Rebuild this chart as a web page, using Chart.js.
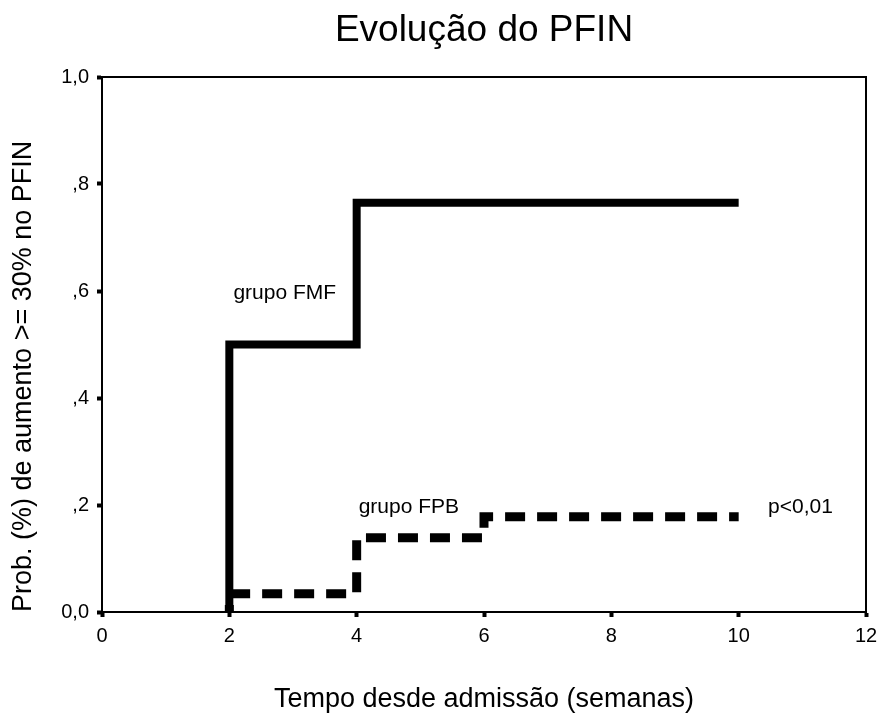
<!DOCTYPE html>
<html>
<head>
<meta charset="utf-8">
<title>Evolução do PFIN</title>
<script src="https://cdn.jsdelivr.net/npm/chart.js@4/dist/chart.umd.min.js"></script>
<style>
  html, body { margin: 0; padding: 0; background: #fff; }
</style>
</head>
<body>
<canvas id="pfin" width="878" height="713"></canvas>
<script>
// Cumulative probability steps (weeks -> probability)
const fmfWeeks = [2, 2, 4, 10];
const fmfProb = [0, 0.5, 0.765, 0.765];
const fpbWeeks = [2, 2, 4, 6, 10];
const fpbProb = [0, 0.034, 0.139, 0.178, 0.178];

const xTicks = [0, 2, 4, 6, 8, 10, 12];
const yTicks = [0, 0.2, 0.4, 0.6, 0.8, 1.0];
const yTickLabels = ['0,0', ',2', ',4', ',6', ',8', '1,0'];

// free text placed in data coordinates
const notes = [
    { text: 'grupo FMF', x: 2.87, y: 0.596 },
    { text: 'grupo FPB', x: 4.82, y: 0.196 },
    { text: 'p<0,01', x: 10.97, y: 0.196 }
];

const FONT = "'Liberation Sans', Arial, sans-serif";

const toPoints = (xs, ys) => xs.map((x, i) => ({ x: x, y: ys[i] }));

// top and right edges of the plot box
const framePlugin = {
    id: 'frame',
    afterDraw(chart) {
        const { ctx, chartArea: a } = chart;
        ctx.save();
        ctx.strokeStyle = '#000';
        ctx.lineWidth = 2;
        ctx.beginPath();
        ctx.moveTo(a.left, a.top);
        ctx.lineTo(a.right, a.top);
        ctx.lineTo(a.right, a.bottom);
        ctx.stroke();
        ctx.restore();
    }
};

const notesPlugin = {
    id: 'notes',
    afterDatasetsDraw(chart) {
        const { ctx, scales: { x, y } } = chart;
        ctx.save();
        ctx.font = '21px ' + FONT;
        ctx.fillStyle = '#000';
        ctx.textAlign = 'center';
        ctx.textBaseline = 'middle';
        notes.forEach(n => ctx.fillText(n.text, x.getPixelForValue(n.x), y.getPixelForValue(n.y)));
        ctx.restore();
    }
};

const tickGrid = {
    drawOnChartArea: false,
    drawTicks: true,
    tickLength: 5,
    tickWidth: 4,
    tickColor: '#000',
    color: '#000'
};

const ctx = document.getElementById('pfin').getContext('2d');
const chart = new Chart(ctx, {
    type: 'line',
    data: {
        datasets: [{
            label: 'grupo FMF',
            data: toPoints(fmfWeeks, fmfProb),
            stepped: 'before',
            borderColor: '#000',
            borderWidth: 8,
            borderJoinStyle: 'miter',
            borderCapStyle: 'butt',
            pointRadius: 0,
            fill: false
        }, {
            label: 'grupo FPB',
            data: toPoints(fpbWeeks, fpbProb),
            stepped: 'before',
            borderColor: '#000',
            borderWidth: 9,
            borderDash: [20, 12],
            borderDashOffset: 13,
            borderJoinStyle: 'miter',
            borderCapStyle: 'butt',
            pointRadius: 0,
            fill: false
        }]
    },
    options: {
        responsive: false,
        animation: false,
        devicePixelRatio: 1,
        layout: { padding: { left: 0, right: 12, top: 0, bottom: 0 } },
        plugins: {
            legend: { display: false },
            tooltip: { enabled: false },
            title: {
                display: true,
                text: 'Evolução do PFIN',
                fullSize: false,
                color: '#000',
                font: { family: FONT, size: 37, weight: 'normal', lineHeight: 1 },
                padding: { top: 12.5, bottom: 27.5 }
            }
        },
        scales: {
            x: {
                type: 'linear',
                min: 0,
                max: 12,
                afterBuildTicks: s => { s.ticks = xTicks.map(v => ({ value: v })); },
                afterFit: s => { s.height = 101; s.paddingLeft = 0; s.paddingRight = 0; },
                ticks: {
                    color: '#000',
                    padding: 7,
                    maxRotation: 0,
                    font: { family: FONT, size: 20 }
                },
                grid: tickGrid,
                border: { display: true, color: '#000', width: 2 },
                title: {
                    display: true,
                    text: 'Tempo desde admissão (semanas)',
                    color: '#000',
                    font: { family: FONT, size: 27, lineHeight: 1 },
                    padding: { top: 0, bottom: 0 }
                }
            },
            y: {
                type: 'linear',
                min: 0,
                max: 1,
                afterBuildTicks: s => { s.ticks = yTicks.map(v => ({ value: v })); },
                afterFit: s => { s.width = 102; s.paddingTop = 0; s.paddingBottom = 0; },
                ticks: {
                    color: '#000',
                    padding: 8,
                    font: { family: FONT, size: 20 },
                    callback: (v, i) => yTickLabels[i]
                },
                grid: tickGrid,
                border: { display: true, color: '#000', width: 2 },
                title: {
                    display: true,
                    text: 'Prob. (%) de aumento >= 30% no PFIN',
                    align: 'start',
                    color: '#000',
                    font: { family: FONT, size: 27, lineHeight: 1 },
                    padding: { top: 10, bottom: 0 }
                }
            }
        }
    },
    plugins: [framePlugin, notesPlugin]
});
</script>
</body>
</html>
